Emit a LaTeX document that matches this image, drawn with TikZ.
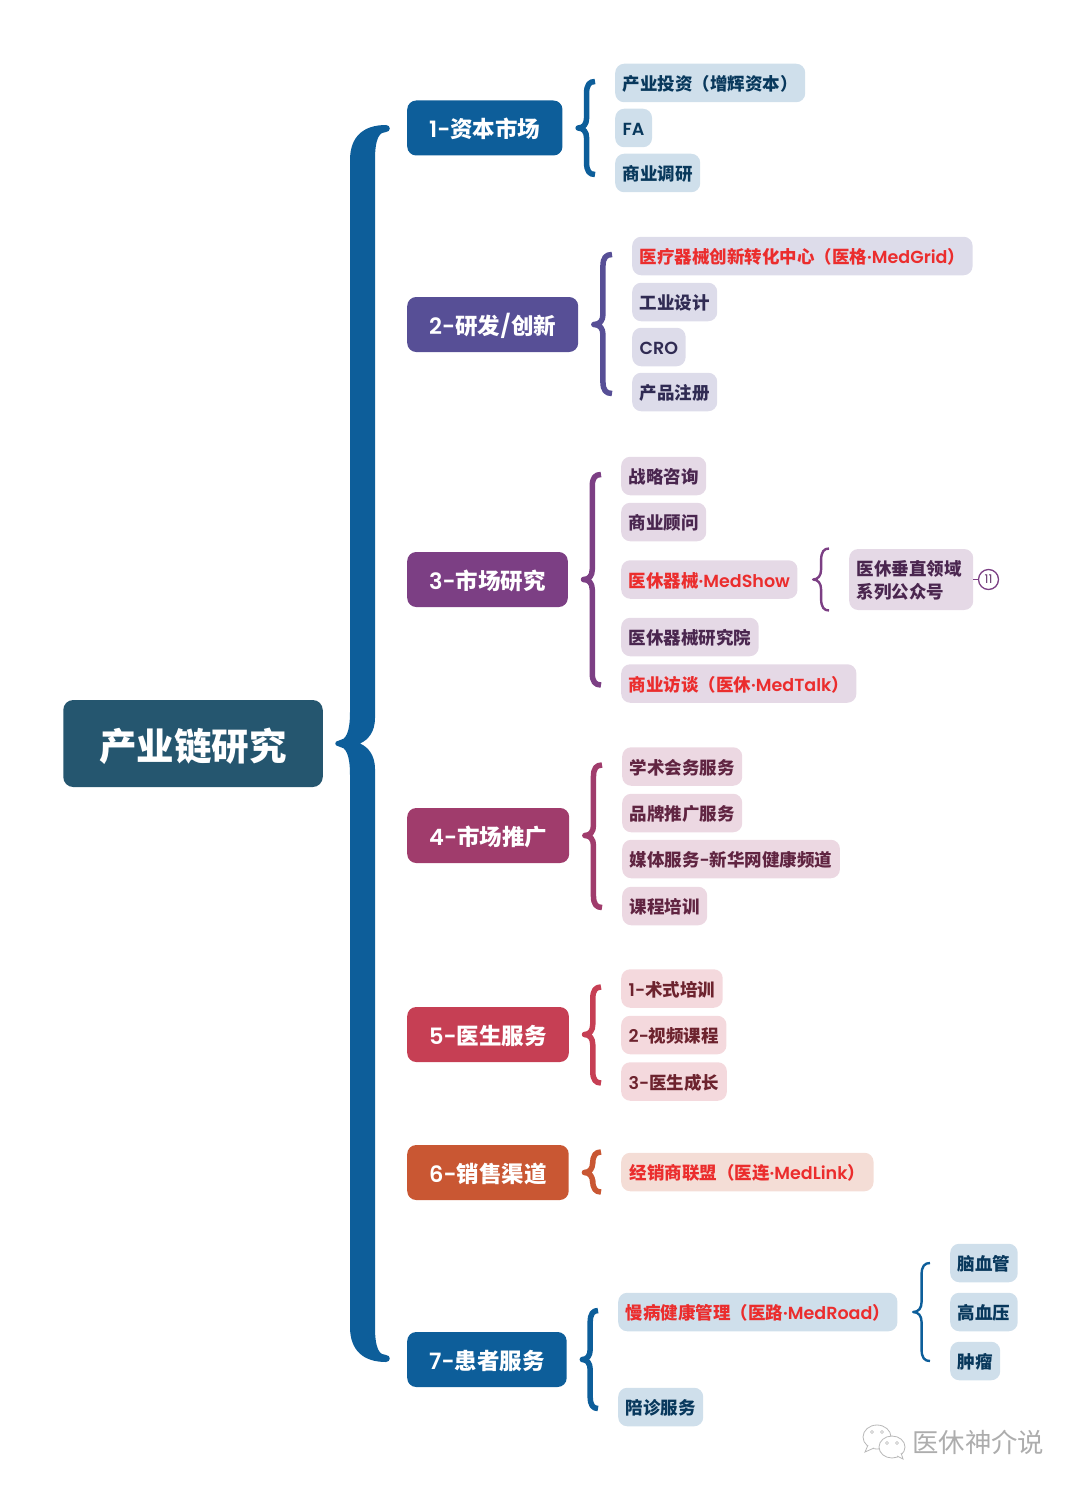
\documentclass[tikz,border=0pt]{standalone}
\usepackage{fontspec}
\setmainfont{Poppins}[BoldFont=* SemiBold]
\newfontfamily\cjk{Noto Sans CJK SC}
\usepackage{tikz}
\usetikzlibrary{positioning}
\usetikzlibrary{calc}

\newcommand{\zh}[1]{{\cjk #1}}
\definecolor{rootc}{HTML}{25566F}
\definecolor{bluec}{HTML}{0D5E9A}
\definecolor{violetc}{HTML}{574F96}
\definecolor{plumc}{HTML}{7C3F84}
\definecolor{rosec}{HTML}{A03C6C}
\definecolor{redc}{HTML}{C63F54}
\definecolor{orangec}{HTML}{C95733}
\definecolor{hotc}{HTML}{EB2D2D}

% parent, first child, last child, spread
\newcommand{\bracket}[5]{
  \draw[#1] let \p1=([xshift=15.5pt]#2.east), \p2=([xshift=-20pt]#3.west), \p3=([xshift=-20pt]#4.west), \n1={(\x1+\x2)/2} in
    (\x2,\y2+#5) .. controls (\n1+3pt,\y2+#5) and (\n1,\y2+#5-3pt) .. (\n1,\y2+#5-12pt)
    -- (\n1,\y1+10pt) .. controls (\n1,\y1+4pt) and (\n1-3pt,\y1) .. (\x1,\y1)
    .. controls (\n1-3pt,\y1) and (\n1,\y1-4pt) .. (\n1,\y1-10pt)
    -- (\n1,\y3-#5+12pt) .. controls (\n1,\y3-#5+3pt) and (\n1+3pt,\y3-#5) .. (\x3,\y3-#5);
}

\begin{document}
\begin{tikzpicture}[x=1pt, y=-1pt,
  rootbox/.style = {fill=rootc, rounded corners=10pt, text=white, font=\bfseries\fontsize{37.5}{40}\selectfont, text height=38pt, text depth=4.5pt, minimum height=87pt, inner xsep=36pt},
  topic/.style = {fill=#1, rounded corners=9pt, text=white, font=\bfseries\fontsize{22.5}{26}\selectfont, text height=21.8pt, text depth=2.7pt, minimum height=55pt, inner xsep=22pt, anchor=west},
  leaf/.style 2 args = {fill=#1, text=#2, rounded corners=9pt, font=\bfseries\fontsize{17.5}{23}\selectfont, text height=17.4pt, text depth=2.1pt, minimum height=38.5pt, inner xsep=7.5pt, anchor=west},
  leafa/.style = {leaf={bluec!20}{bluec!60!black}},
  leafb/.style = {leaf={violetc!20}{violetc!55!black}},
  leafc/.style = {leaf={plumc!20}{plumc!60!black}},
  leafd/.style = {leaf={rosec!20}{rosec!60!black}},
  leafe/.style = {leaf={redc!20}{redc!55!black}},
  leaff/.style = {leaf={orangec!20}{hotc}},
  hot/.style = {text=hotc},
  curl/.style = {draw=#1, line width=5.5pt, line join=round},
  thincurl/.style = {draw=#1, line width=2.4pt, line join=round},
  badge/.style = {draw=plumc, circle, line width=1.3pt, fill=white, text=plumc!80!black, inner sep=0pt, minimum size=20pt, font=\fontsize{12}{12}\selectfont},
  wmline/.style = {draw=black!28, fill=white, line width=0.8pt}
  ]
  \useasboundingbox (0,0) rectangle (1080,1490);

  % main brace
  \fill[bluec] (350,160) .. controls (350,137) and (363,125) .. (386,125)
    .. controls (391,125) and (391,132) .. (386,132)
    .. controls (380,132) and (375,137) .. (375,160)
    -- (375,718) .. controls (375,732) and (368,740) .. (360,743.5)
    .. controls (368,747) and (375,755) .. (375,769)
    -- (375,1327) .. controls (375,1350) and (380,1355) .. (386,1355)
    .. controls (391,1355) and (391,1362) .. (386,1362)
    .. controls (363,1362) and (350,1350) .. (350,1327)
    -- (350,775) .. controls (350,755) and (346,747) .. (339,746.5)
    .. controls (334,746) and (334,741) .. (339,740.5)
    .. controls (346,740) and (350,732) .. (350,712) -- cycle;

  \node[rootbox](root) at (193,743.5){\zh{产业链研究}};

  \node[topic=bluec](t1) at (407,128){1-\zh{资本市场}};
  \node[topic=violetc](t2) at (407,324.5){2-\zh{研发}/\zh{创新}};
  \node[topic=plumc](t3) at (407,579.5){3-\zh{市场研究}};
  \node[topic=rosec](t4) at (407,835.5){4-\zh{市场推广}};
  \node[topic=redc](t5) at (407,1034.5){5-\zh{医生服务}};
  \node[topic=orangec](t6) at (407,1172.5){6-\zh{销售渠道}};
  \node[topic=bluec](t7) at (407,1359.5){7-\zh{患者服务}};

  % capital
  \node[leafa](a1) at (615,83){\zh{产业投资（增辉资本）}};
  \node[leafa](a2) at (615,128){FA};
  \node[leafa](a3) at (615,173){\zh{商业调研}};
  % research
  \node[leafb,hot](b1) at (632,256){\zh{医疗器械创新转化中心（医格}·MedGrid\zh{）}};
  \node[leafb](b2) at (632,302){\zh{工业设计}};
  \node[leafb](b3) at (632,347){CRO};
  \node[leafb](b4) at (632,392){\zh{产品注册}};
  % market
  \node[leafc](c1) at (621,476){\zh{战略咨询}};
  \node[leafc](c2) at (621,522){\zh{商业顾问}};
  \node[leafc,hot](c3) at (621,579.5){\zh{医休器械}·MedShow};
  \node[leafc](c4) at (621,637){\zh{医休器械研究院}};
  \node[leafc,hot](c5) at (621,683.5){\zh{商业访谈（医休}·MedTalk\zh{）}};
  \node[leafc,text width=109pt,align=left,text height=17pt,text depth=25pt,minimum height=61pt](c6) at (849,579.5){\zh{医休垂直领域}\\\zh{系列公众号}};
  \node[badge](c7) at (988.5,579.5){11};
  \draw[plumc, line width=1.3pt] (c6) -- (c7);
  % promotion
  \node[leafd](d1) at (622,766.5){\zh{学术会务服务}};
  \node[leafd](d2) at (622,813){\zh{品牌推广服务}};
  \node[leafd](d3) at (622,859){\zh{媒体服务}-\zh{新华网健康频道}};
  \node[leafd](d4) at (622,906){\zh{课程培训}};
  % doctors
  \node[leafe](e1) at (621,988.5){1-\zh{术式培训}};
  \node[leafe](e2) at (621,1035){2-\zh{视频课程}};
  \node[leafe](e3) at (621,1081.5){3-\zh{医生成长}};
  % channels
  \node[leaff,inner xsep=8.5pt](f1) at (621,1172){\zh{经销商联盟（医连}·MedLink\zh{）}};
  % patients
  \node[leafa,hot](g1) at (618,1312){\zh{慢病健康管理（医路}·MedRoad\zh{）}};
  \node[leafa](g2) at (618,1407){\zh{陪诊服务}};
  \node[leafa](g3) at (950,1263){\zh{脑血管}};
  \node[leafa](g4) at (950,1312){\zh{高血压}};
  \node[leafa](g5) at (950,1361){\zh{肿瘤}};

  \bracket{curl=bluec}{t1}{a1}{a3}{1.5pt}
  \bracket{curl=violetc}{t2}{b1}{b4}{1.5pt}
  \bracket{curl=plumc}{t3}{c1}{c5}{1.5pt}
  \bracket{curl=rosec}{t4}{d1}{d4}{1.5pt}
  \bracket{curl=redc}{t5}{e1}{e3}{1.5pt}
  \bracket{curl=orangec}{t6}{f1}{f1}{20pt}
  \bracket{curl=bluec}{t7}{g1}{g2}{1.5pt}
  \bracket{thincurl=plumc}{c3}{c6}{c6}{31pt}
  \bracket{thincurl=bluec}{g1}{g3}{g5}{0pt}

  % watermark
  \draw[wmline] (877,1437) ellipse (14 and 12);
  \draw[wmline] (868,1445) -- (865,1452) -- (874,1448);
  \draw[wmline] (892,1447) ellipse (13 and 11);
  \draw[wmline] (897,1456) -- (903,1459) -- (901,1453);
  \foreach \ex/\ey in {872/1432, 882/1432, 887/1443, 897/1443}
    \draw[draw=black!28, line width=0.6pt] (\ex,\ey) circle (1.5);
  \node[text=black!32, font=\fontsize{26.4}{28}\selectfont, anchor=west, inner sep=0pt](wm) at (912,1442){\zh{医休神介说}};
\end{tikzpicture}
\end{document}
